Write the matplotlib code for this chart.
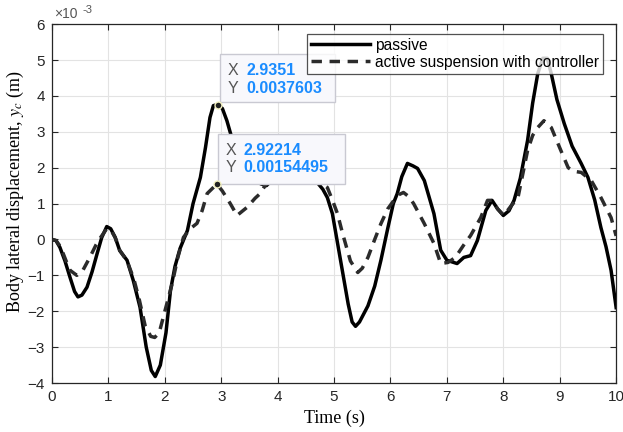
import numpy as np
import matplotlib.pyplot as plt
from matplotlib.patches import Rectangle

# time (s) and displacement (x1e-3 m)
t_passive = [0, 0.07, 0.14, 0.23, 0.32, 0.4, 0.46, 0.53, 0.62, 0.71, 0.8, 0.88, 0.97, 1.04, 1.12,
             1.2, 1.33, 1.44, 1.56, 1.67, 1.76, 1.83, 1.92, 2.02, 2.1, 2.18, 2.27, 2.4, 2.5, 2.63,
             2.72, 2.8, 2.86, 2.935, 3.02, 3.1, 3.16, 3.25, 3.4, 3.55, 3.7, 3.8, 3.9, 4.05, 4.25,
             4.45, 4.6, 4.7, 4.8, 4.88, 4.97, 5.05, 5.15, 5.25, 5.32, 5.38, 5.45, 5.6, 5.72, 5.83,
             5.95, 6.05, 6.12, 6.2, 6.3, 6.4, 6.48, 6.6, 6.77, 6.89, 7.0, 7.18, 7.3, 7.42, 7.54,
             7.69, 7.8, 7.9, 8.0, 8.1, 8.19, 8.3, 8.43, 8.52, 8.61, 8.7, 8.78, 8.85, 8.95, 9.08,
             9.22, 9.38, 9.5, 9.62, 9.73, 9.82, 9.91, 10.0]
y_passive = [0, -0.03, -0.22, -0.6, -1.06, -1.45, -1.6, -1.55, -1.33, -0.9, -0.39, 0.05, 0.36, 0.3,
             0.06, -0.31, -0.58, -1.14, -1.89, -3.0, -3.65, -3.82, -3.5, -2.6, -1.42, -0.75, -0.25,
             0.25, 1.0, 1.73, 2.56, 3.4, 3.73, 3.76, 3.65, 3.31, 2.98, 2.5, 2.05, 1.75, 1.55, 1.5,
             1.65, 1.85, 1.9, 1.8, 1.7, 1.59, 1.4, 1.17, 0.72, 0.0, -0.9, -1.8, -2.3, -2.42, -2.3,
             -1.85, -1.3, -0.58, 0.3, 1.0, 1.28, 1.75, 2.12, 2.05, 1.98, 1.64, 0.72, -0.3, -0.58,
             -0.67, -0.5, -0.45, -0.03, 0.81, 1.09, 0.85, 0.67, 0.8, 1.09, 1.7, 2.76, 3.8, 4.62,
             5.05, 5.05, 4.62, 3.9, 3.23, 2.6, 2.12, 1.73, 1.1, 0.33, -0.2, -0.86, -1.9]

t_active = [0, 0.07, 0.15, 0.25, 0.32, 0.44, 0.55, 0.67, 0.78, 0.85, 0.97, 1.05, 1.12, 1.2, 1.33,
            1.45, 1.55, 1.65, 1.75, 1.82, 1.9, 2.0, 2.13, 2.23, 2.33, 2.45, 2.57, 2.66, 2.75, 2.922,
            3.02, 3.16, 3.28, 3.46, 3.6, 3.69, 3.8, 3.95, 4.15, 4.4, 4.65, 4.88, 4.97, 5.06, 5.15,
            5.29, 5.42, 5.5, 5.6, 5.72, 5.83, 5.95, 6.06, 6.15, 6.23, 6.32, 6.41, 6.6, 6.77, 6.89,
            7.02, 7.15, 7.3, 7.42, 7.6, 7.72, 7.8, 7.9, 8.01, 8.12, 8.26, 8.43, 8.52, 8.61, 8.72,
            8.85, 9.02, 9.15, 9.25, 9.38, 9.56, 9.73, 9.91, 10.0]
y_active = [0, -0.03, -0.2, -0.6, -0.86, -1.0, -0.85, -0.5, -0.15, 0.03, 0.3, 0.25, 0.05, -0.3,
            -0.6, -1.1, -1.7, -2.4, -2.7, -2.73, -2.6, -2.0, -1.23, -0.5, 0.06, 0.3, 0.45, 0.8, 1.28,
            1.545, 1.35, 1.0, 0.67, 0.9, 1.15, 1.28, 1.56, 1.75, 1.85, 1.85, 1.7, 1.45, 1.1, 0.72,
            0.17, -0.6, -0.92, -0.8, -0.5, 0.0, 0.44, 0.85, 1.09, 1.25, 1.31, 1.2, 1.0, 0.44, -0.11,
            -0.67, -0.64, -0.5, -0.15, 0.11, 0.61, 1.09, 1.09, 0.85, 0.67, 0.9, 1.17, 2.48, 2.9,
            3.12, 3.31, 3.12, 2.48, 2.0, 1.9, 1.87, 1.64, 1.17, 0.61, 0.1]

# data tips
tip_x = [2.9351, 2.92214]
tip_y = [0.0037603, 0.00154495]
tip_xlabels = ['2.9351', '2.92214']
tip_ylabels = ['0.0037603', '0.00154495']

dark = '#262626'
plt.rcParams['font.family'] = ['Liberation Sans', 'DejaVu Sans']
plt.rcParams['mathtext.fontset'] = 'stix'

fig = plt.figure(figsize=(6.23, 4.32), dpi=100)
ax = fig.add_axes([0.0835, 0.1134, 0.9055, 0.8306])

ax.plot(t_passive, y_passive, color='black', lw=2.5, label='passive', zorder=3)
ax.plot(t_active, y_active, color='#2b2b2b', lw=2.5, ls=(0, (3, 2.2)),
        label='active suspension with controller', zorder=3)

ax.set_xlim(0, 10)
ax.set_ylim(-4, 6)
ax.set_xticks(range(0, 11))
ax.set_yticks(range(-4, 7))
ax.grid(True, color='#e3e3e3', lw=0.8)
ax.set_axisbelow(True)
ax.tick_params(direction='in', top=True, right=True, colors=dark, labelsize=11, length=4, pad=5)
for s in ax.spines.values():
    s.set_color(dark)
    s.set_linewidth(0.9)

# exponent label, like MATLAB's
ax.text(0.004, 1.008, '×10', transform=ax.transAxes, fontsize=10, color='#555555',
        ha='left', va='bottom')
ax.text(0.054, 1.025, '-3', transform=ax.transAxes, fontsize=8, color='#555555',
        ha='left', va='bottom')

ax.set_xlabel('Time (s)', family='Liberation Serif', fontsize=13, labelpad=4)
ax.set_ylabel('Body lateral displacement, $y_c$ (m)', family='Liberation Serif', fontsize=13)
ax.yaxis.set_label_coords(-0.047, 0.535)

leg = ax.legend(loc='upper right', bbox_to_anchor=(0.976, 0.973), fontsize=11.2, frameon=True,
                fancybox=False, edgecolor=dark, handlelength=3.8, borderpad=0.25,
                labelspacing=0.12, handletextpad=0.3, borderaxespad=0)
leg.get_frame().set_linewidth(0.9)
leg.set_zorder(6)

# data tip boxes (layout in data coordinates)
boxes = [(2.98, 3.82, 2.04, 1.36), (2.94, 1.56, 2.26, 1.39)]
rows = [(4.71, 4.2), (2.48, 2.0)]
for i in range(2):
    bx, by, bw, bh = boxes[i]
    ax.add_patch(Rectangle((bx, by), bw, bh, facecolor='#f8f8fc', edgecolor='#c9c9d2',
                           lw=1, zorder=5))
    ax.text(bx + 0.14, rows[i][0], 'X', color='#555555', fontsize=11.5, va='center', zorder=7)
    ax.text(bx + 0.46, rows[i][0], tip_xlabels[i], color='#1a8cff', fontsize=11.5,
            fontweight='bold', va='center', zorder=7)
    ax.text(bx + 0.14, rows[i][1], 'Y', color='#555555', fontsize=11.5, va='center', zorder=7)
    ax.text(bx + 0.46, rows[i][1], tip_ylabels[i], color='#1a8cff', fontsize=11.5,
            fontweight='bold', va='center', zorder=7)
    ax.plot(tip_x[i], tip_y[i] * 1000, 'o', ms=5, color='#222222', mec='#f2f0c0', mew=1, zorder=8)

fig.savefig('out.png', dpi=100)
